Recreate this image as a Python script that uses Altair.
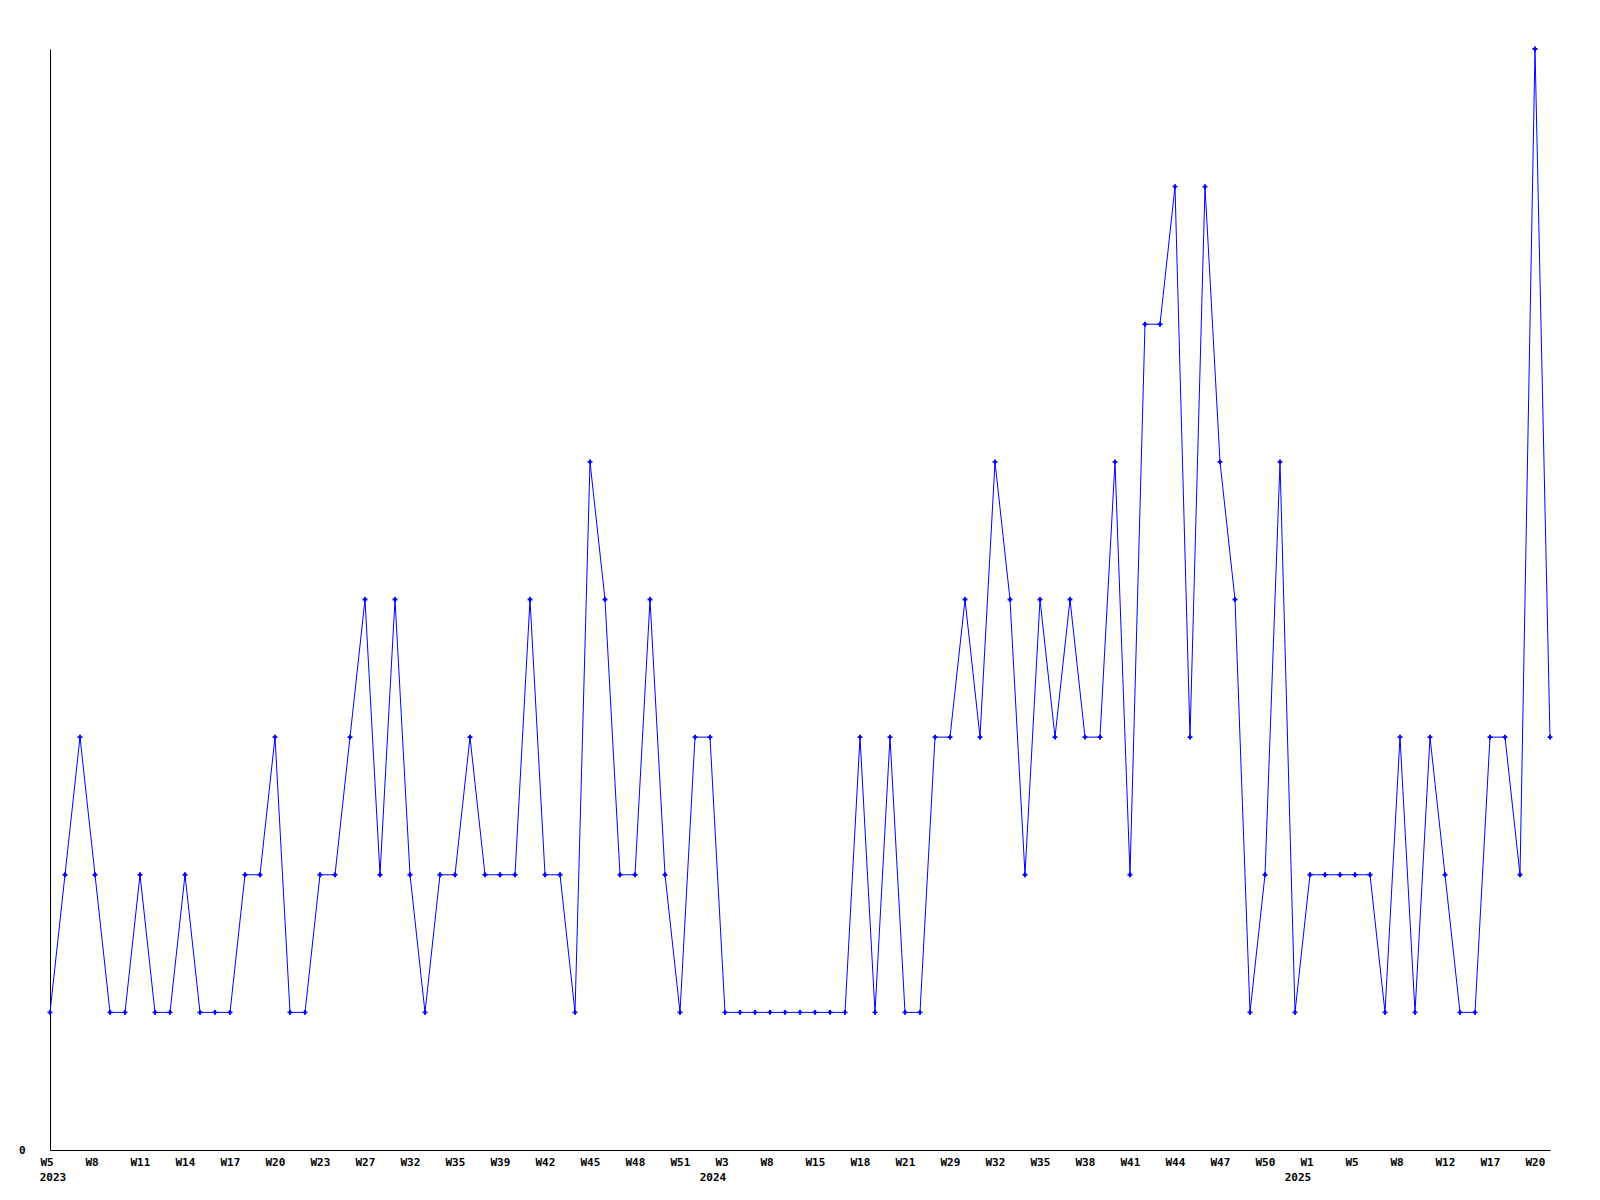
import altair as alt
import pandas as pd

# year / week of each data point (only weeks with data are present)
years = [2023] * 44 + [2024] * 39 + [2025] * 18
weeks = [
    5, 6, 7, 8, 9, 10, 11, 12, 13, 14, 15, 16, 17, 18, 19, 20, 21, 22, 23, 24,
    26, 27, 29, 30, 32, 33, 34, 35, 36, 38, 39, 40, 41, 42, 43, 44, 45, 46, 47, 48,
    49, 50, 51, 52,
    0, 3, 5, 7, 8, 10, 13, 15, 16, 17, 18, 19, 20, 21, 24, 27, 29, 30, 31, 32,
    33, 34, 35, 36, 37, 38, 39, 40, 41, 42, 43, 44, 45, 46, 47, 48, 49, 50, 51,
    0, 1, 2, 4, 5, 6, 7, 8, 10, 11, 12, 14, 16, 17, 18, 19, 20, 21,
]
values = [
    1, 2, 3, 2, 1, 1, 2, 1, 1, 2, 1, 1, 1, 2, 2, 3, 1, 1, 2, 2,
    3, 4, 2, 4, 2, 1, 2, 2, 3, 2, 2, 2, 4, 2, 2, 1, 5, 4, 2, 2,
    4, 2, 1, 3, 3, 1, 1, 1, 1, 1, 1, 1, 1, 1, 3, 1, 3, 1, 1, 3,
    3, 4, 3, 5, 4, 2, 4, 3, 4, 3, 3, 5, 2, 6, 6, 7, 3, 7, 5, 4,
    1, 2, 5, 1, 2, 2, 2, 2, 2, 1, 3, 1, 3, 2, 1, 1, 3, 3, 2, 8,
    3,
]
label_every = 3

keys = [f"{y}-W{w:02d}" for y, w in zip(years, weeks)]
df = pd.DataFrame({"key": keys, "year": years, "week": weeks, "value": values})
year_df = df.drop_duplicates("year")[["key", "year"]]

shown = keys[::label_every]
label_expr = "'W' + toNumber(slice(datum.value, 6))"

font = "DejaVu Sans Mono"
H = 1101

x = alt.X(
    "key:N",
    sort=keys,
    scale=alt.Scale(type="point", padding=0),
    axis=alt.Axis(
        title=None,
        values=shown,
        labelExpr=label_expr,
        labelAngle=0,
        labelAlign="left",
        labelBaseline="top",
        labelOffset=-10,
        labelPadding=6,
        labelFont=font,
        labelFontWeight="bold",
        labelFontSize=11,
        labelColor="black",
        labelOverlap=False,
        labelFlush=False,
        ticks=False,
        grid=False,
        domainColor="black",
        domainWidth=1,
    ),
)
y = alt.Y(
    "value:Q",
    scale=alt.Scale(domain=[0, 8], nice=False, zero=True),
    axis=alt.Axis(
        title=None,
        values=[0],
        labelPadding=25,
        labelFont=font,
        labelFontWeight="bold",
        labelFontSize=11,
        labelColor="black",
        labelOverlap=False,
        labelFlush=False,
        ticks=False,
        grid=False,
        domainColor="black",
        domainWidth=1,
    ),
)

base = alt.Chart(df).encode(x=x, y=y)
line = base.mark_line(color="#0000ff", strokeWidth=1)
pts = base.mark_point(shape="cross", filled=True, size=24, color="#0000ff", opacity=1)

year_text = (
    alt.Chart(year_df)
    .mark_text(
        font=font,
        fontWeight="bold",
        fontSize=11,
        color="black",
        align="center",
        baseline="middle",
        dx=3,
    )
    .encode(
        x=alt.X("key:N", sort=keys),
        y=alt.value(H + 28),
        text=alt.Text("year:N"),
    )
)

chart = (
    alt.layer(line, pts, year_text)
    .properties(
        width=1500,
        height=H,
        autosize=alt.AutoSizeParams(type="none"),
        padding={"left": 42, "top": 41, "right": 40, "bottom": 40},
        background="white",
    )
    .configure_view(stroke=None)
)

chart.save("out.html", embed_options={"renderer": "svg", "actions": False})
